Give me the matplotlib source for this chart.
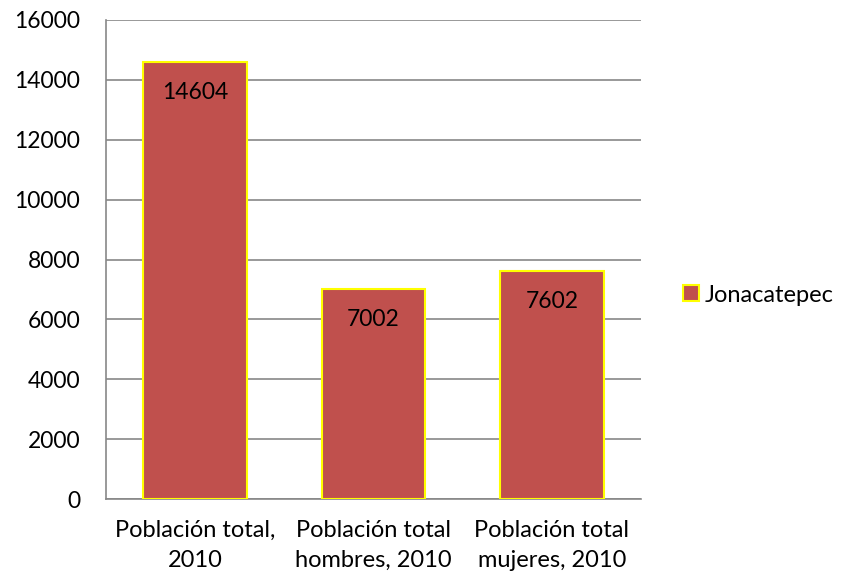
import matplotlib.pyplot as plt

categorias = ['Población total,\n2010', 'Población total\nhombres, 2010', 'Población total\nmujeres, 2010']
valores = [14604, 7002, 7602]
serie = 'Jonacatepec'

plt.rcParams['font.family'] = ['Lato', 'DejaVu Sans']

fig = plt.figure(figsize=(8.43, 5.77), dpi=100)
# ejes: x 106..641 px, y 20..499 px
ax = fig.add_axes([106 / 843, 1 - 499 / 577, 535 / 843, 479 / 577])

x = range(len(categorias))
barras = ax.bar(x, valores, width=0.58, color='#C0504D', edgecolor='#FFFF00',
                linewidth=1.5, label=serie, zorder=3)

for xi, v in zip(x, valores):
    ax.annotate(str(v), (xi, v), xytext=(0, -22), textcoords='offset points',
                ha='center', va='center', fontsize=16.5, color='black', zorder=4)

ax.set_xlim(-0.5, 2.5)
ax.set_ylim(0, 16000)
ax.set_yticks(range(0, 16001, 2000))
ax.set_xticks(list(x))
ax.set_xticklabels(categorias, fontsize=17, linespacing=1.55)
ax.tick_params(axis='y', labelsize=16.5, length=0, pad=18.5)
ax.tick_params(axis='x', length=0, pad=15)
ax.yaxis.grid(True, color='#878787', linewidth=1.2, zorder=0)
for lado in ['top', 'right']:
    ax.spines[lado].set_visible(False)
ax.spines['left'].set_color('#878787')
ax.spines['bottom'].set_color('#878787')
ax.spines['left'].set_linewidth(1.2)
ax.spines['bottom'].set_linewidth(1.2)

fig.legend(handles=[barras], labels=[serie], loc='center left',
           bbox_to_anchor=(683 / 843, 1 - 295 / 577), frameon=False, fontsize=17,
           borderpad=0, borderaxespad=0,
           handlelength=0.68, handleheight=0.68, handletextpad=0.25)

plt.savefig('out.png', dpi=100)
